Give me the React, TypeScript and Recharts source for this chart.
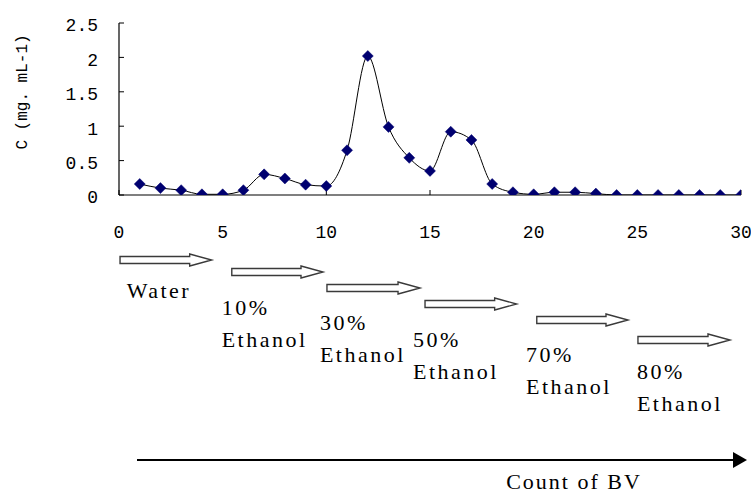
import React from 'react';
import { LineChart, Line, XAxis, YAxis, Customized } from 'recharts';

// ---- data ----
const bvCount = [1, 2, 3, 4, 5, 6, 7, 8, 9, 10, 11, 12, 13, 14, 15, 16, 17, 18, 19, 20, 21, 22, 23, 24, 25, 26, 27, 28, 29, 30];
const concentration = [0.16, 0.10, 0.07, 0.01, 0.01, 0.07, 0.30, 0.24, 0.15, 0.13, 0.65, 2.02, 0.99, 0.54, 0.35, 0.92, 0.80, 0.16, 0.04, 0.01, 0.04, 0.04, 0.02, 0.0, 0.0, 0.0, 0.0, 0.0, 0.0, 0.0];
const xTicks = [0, 5, 10, 15, 20, 25, 30];
const yTicks = [0, 0.5, 1, 1.5, 2, 2.5];
const stageLine1 = ['Water', '10%', '30%', '50%', '70%', '80%'];
const stageLine2 = ['', 'Ethanol', 'Ethanol', 'Ethanol', 'Ethanol', 'Ethanol'];
const stageStartBV = [0.05, 5.44, 10.03, 14.76, 20.15, 25.03];
const stageEndBV = [4.47, 9.84, 14.52, 19.18, 24.55, 29.47];
const stageLabelBV = [0.37, 4.95, 9.69, 14.18, 19.63, 24.98];
const yTitle = 'C (mg. mL-1)';
const xTitle = 'Count of BV';

const data = bvCount.map((bv, i) => ({ bv, c: concentration[i] }));

// ---- layout ----
const W = 751;
const H = 495;
const PLOT_LEFT = 119;
const PLOT_RIGHT = 741;
const PLOT_TOP = 23;
const PLOT_BOTTOM = 195;
const XAXIS_H = 50;
const X_MIN = 0;
const X_MAX = 30;
const ARROW_Y = [260, 272, 288, 304, 320, 340];
const LABEL_Y = [298, 315, 330, 347, 362, 379];
const LINE_GAP = 32;

const xPx = (bv: number) => PLOT_LEFT + ((bv - X_MIN) / (X_MAX - X_MIN)) * (PLOT_RIGHT - PLOT_LEFT);

const Diamond = (props: any) => {
  const { cx, cy } = props;
  if (cx == null || cy == null) return null;
  const r = 5.5;
  return (
    <polygon
      points={`${cx},${cy - r} ${cx + r},${cy} ${cx},${cy + r} ${cx - r},${cy}`}
      fill="#000070"
      stroke="#000070"
      strokeWidth={0.5}
    />
  );
};

const serif = "'Liberation Serif', 'DejaVu Serif', 'Times New Roman', serif";
const mono = "'Liberation Mono', 'DejaVu Sans Mono', monospace";

const Annotations = () => {
  return (
    <g>
      <text
        x={27}
        y={92}
        transform="rotate(-90, 27, 92)"
        textAnchor="middle"
        style={{ fontFamily: mono }}
        fontSize={16}
        fill="#000"
      >
        {yTitle}
      </text>
      {stageLine1.map((name, i) => {
        const x0 = xPx(stageStartBV[i]);
        const x1 = xPx(stageEndBV[i]);
        const y = ARROW_Y[i];
        const xh = x1 - 22;
        const path = `M${x0},${y - 3.5} L${xh},${y - 3.5} L${xh},${y - 6} L${x1},${y} L${xh},${y + 6} L${xh},${y + 3.5} L${x0},${y + 3.5} Z`;
        const lx = xPx(stageLabelBV[i]);
        return (
          <g key={name}>
            <path d={path} fill="#fff" stroke="#3a3a3a" strokeWidth={1.4} strokeLinejoin="miter" />
            <text x={lx} y={LABEL_Y[i]} style={{ fontFamily: serif }} fontSize={22} letterSpacing={2.5} fill="#000">
              {name}
            </text>
            {stageLine2[i] ? (
              <text x={lx} y={LABEL_Y[i] + LINE_GAP} style={{ fontFamily: serif }} fontSize={22} letterSpacing={2.5} fill="#000">
                {stageLine2[i]}
              </text>
            ) : null}
          </g>
        );
      })}
      <line x1={137} y1={460} x2={733} y2={460} stroke="#000" strokeWidth={2} />
      <polygon points={`733,452 747,460 733,468`} fill="#000" />
      <text x={574} y={489} textAnchor="middle" style={{ fontFamily: serif }} fontSize={22} letterSpacing={2} fill="#000">
        {xTitle}
      </text>
    </g>
  );
};

export default function App() {
  return (
    <div style={{ position: 'absolute', left: 0, top: 0, width: W, height: H, background: '#fff' }}>
      <LineChart
        width={W}
        height={H}
        data={data}
        margin={{ top: PLOT_TOP, right: W - PLOT_RIGHT, bottom: H - PLOT_BOTTOM - XAXIS_H, left: 0 }}
      >
        <XAxis
          dataKey="bv"
          type="number"
          domain={[X_MIN, X_MAX]}
          ticks={xTicks}
          interval={0}
          height={XAXIS_H}
          axisLine={{ stroke: '#000', strokeWidth: 1.2 }}
          tickLine={{ stroke: '#000' }}
          tickSize={-5}
          tickMargin={35}
          tick={{ fontFamily: mono, fontSize: 18, fill: '#000' }}
          allowDataOverflow
        />
        <YAxis
          type="number"
          domain={[0, 2.5]}
          ticks={yTicks}
          interval={0}
          width={PLOT_LEFT}
          axisLine={{ stroke: '#000', strokeWidth: 1.2 }}
          tickLine={{ stroke: '#000' }}
          tickSize={-5}
          tickMargin={26}
          tick={{ fontFamily: mono, fontSize: 18, fill: '#000', dy: 2 }}
          allowDataOverflow
        />
        <Line
          type="monotone"
          dataKey="c"
          stroke="#000"
          strokeWidth={1}
          dot={<Diamond />}
          activeDot={false}
          isAnimationActive={false}
        />
        <Customized component={Annotations} />
      </LineChart>
    </div>
  );
}
